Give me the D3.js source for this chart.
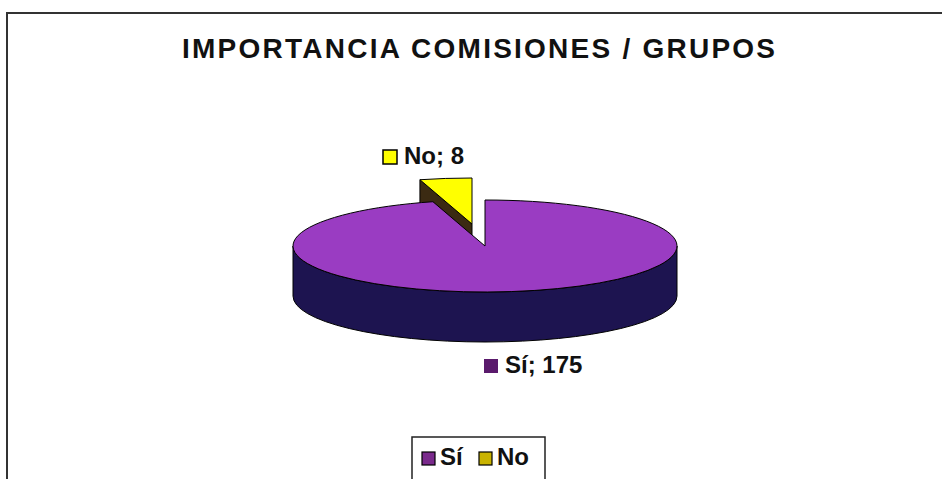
<!DOCTYPE html>
<html>
<head>
<meta charset="utf-8">
<script src="https://cdn.jsdelivr.net/npm/d3@7"></script>
<style>
  body { margin: 0; background: #fff; }
  text { font-family: "Liberation Sans", Arial, sans-serif; font-weight: bold; fill: #111; }
</style>
</head>
<body>
<div id="container"></div>
<script>
const width = 942, height = 479;

// data
const categories = ["Sí", "No"];
const values = [175, 8];
const topColors = ["#9a3cc2", "#ffff00"];
const sideColors = ["#1d1450", "#3b2a12"];
const swatchColors = ["#7a2a8c", "#c9b300"];

// pie geometry (projected ellipse)
const cx = 485, cy = 246, rx = 192, ry = 46, depth = 50;
const explode = { x: -13, y: -22 };

const svg = d3.select("#container")
  .append("svg")
  .attr("width", width)
  .attr("height", height);

// frame
svg.append("path")
  .attr("d", `M7,${height} L7,13 L${width},13`)
  .attr("fill", "none")
  .attr("stroke", "#333")
  .attr("stroke-width", 2);

// title
svg.append("text")
  .attr("x", 182)
  .attr("y", 58)
  .attr("textLength", 593)
  .attr("lengthAdjust", "spacing")
  .style("font-size", "28px")
  .text("IMPORTANCIA COMISIONES / GRUPOS");

const pie = d3.pie().sort(null);
const arcs = pie(values);

const pt = (a, o = { x: 0, y: 0 }) =>
  [cx + o.x + rx * Math.sin(a), cy + o.y - ry * Math.cos(a)];

// exploded "No" slice (drawn first, it sits behind)
const no = arcs[1];
const t0 = pt(no.startAngle, explode), t1 = pt(no.endAngle, explode);
const tip = [cx + explode.x, cy + explode.y];

// radial side face at its start edge
svg.append("path")
  .attr("d", `M${tip} L${t0} L${t0[0]},${t0[1] + depth} L${tip[0]},${tip[1] + depth} Z`)
  .attr("fill", sideColors[1])
  .attr("stroke", "#000")
  .attr("stroke-width", 1);

svg.append("path")
  .attr("d", `M${tip} L${t0} A${rx},${ry} 0 0 1 ${t1} Z`)
  .attr("fill", topColors[1])
  .attr("stroke", "#000")
  .attr("stroke-width", 1);

// main "Sí" slice
const si = arcs[0];
// front wall
svg.append("path")
  .attr("d", `M${cx + rx},${cy} A${rx},${ry} 0 0 1 ${cx - rx},${cy}
              L${cx - rx},${cy + depth} A${rx},${ry} 0 0 0 ${cx + rx},${cy + depth} Z`)
  .attr("fill", sideColors[0])
  .attr("stroke", "#000")
  .attr("stroke-width", 1);

const s0 = pt(si.startAngle), s1 = pt(si.endAngle);
const large = (si.endAngle - si.startAngle) > Math.PI ? 1 : 0;
svg.append("path")
  .attr("d", `M${cx},${cy} L${s0} A${rx},${ry} 0 ${large} 1 ${s1} Z`)
  .attr("fill", topColors[0])
  .attr("stroke", "#000")
  .attr("stroke-width", 1);

// data labels
const labels = [
  { i: 0, x: 484, y: 359 },
  { i: 1, x: 383, y: 150 }
];
const labelSwatch = ["#5a1a6c", "#ffff00"];
labels.forEach(l => {
  svg.append("rect")
    .attr("x", l.x).attr("y", l.y)
    .attr("width", 14).attr("height", 14)
    .attr("fill", labelSwatch[l.i])
    .attr("stroke", l.i === 1 ? "#000" : "none")
    .attr("stroke-width", 1.5);
  svg.append("text")
    .attr("x", l.x + 21)
    .attr("y", l.y + 14)
    .style("font-size", "24px")
    .text(`${categories[l.i]}; ${values[l.i]}`);
});

// legend
const legend = svg.append("g");
legend.append("path")
  .attr("d", `M412,${height} L412,437 L545,437 L545,${height}`)
  .attr("fill", "none")
  .attr("stroke", "#222")
  .attr("stroke-width", 1.5);

const legendX = [422, 479];
categories.forEach((c, i) => {
  legend.append("rect")
    .attr("x", legendX[i]).attr("y", 452)
    .attr("width", 13).attr("height", 13)
    .attr("fill", swatchColors[i])
    .attr("stroke", "#000")
    .attr("stroke-width", 1.2);
  legend.append("text")
    .attr("x", legendX[i] + 18)
    .attr("y", 465)
    .style("font-size", "24px")
    .text(c);
});
</script>
</body>
</html>
